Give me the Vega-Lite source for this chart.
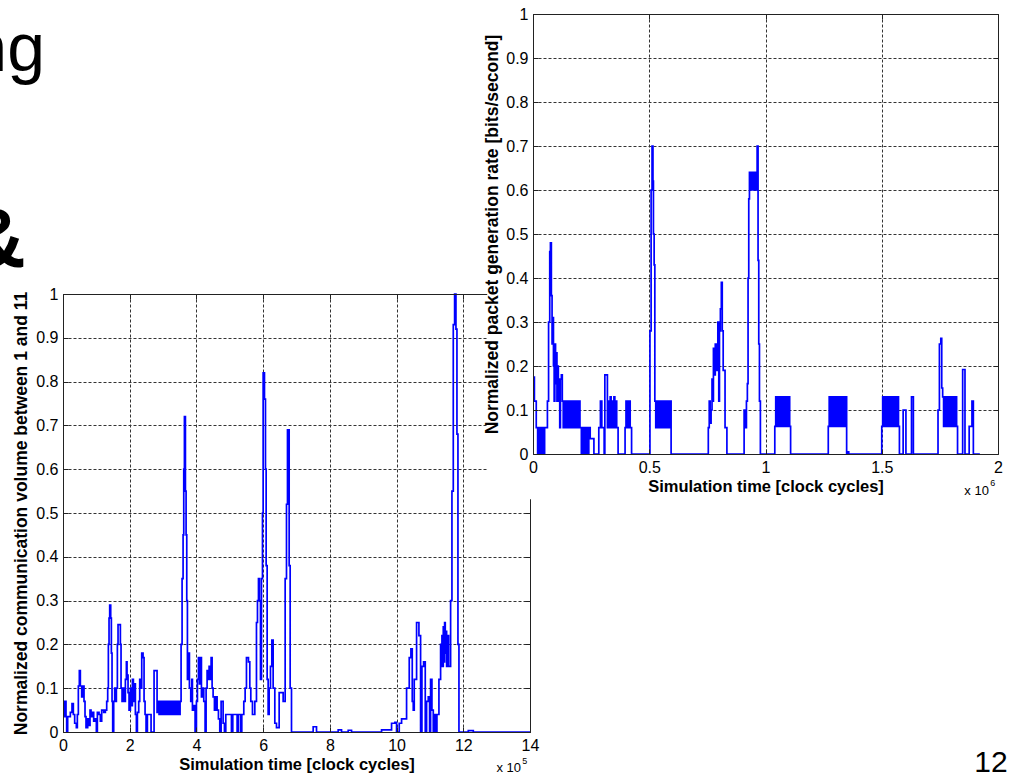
{
  "$schema": "https://vega.github.io/schema/vega-lite/v6.json",
  "background": "white",
  "padding": {"left": 0, "top": 6, "right": 5, "bottom": 0},
  "config": {
    "view": {"stroke": null},
    "font": "Liberation Sans",
    "axis": {
      "labelFont": "Liberation Sans", "labelFontSize": 16, "labelColor": "#000",
      "titleFont": "Liberation Sans", "titleFontSize": 16.5, "titleFontWeight": "bold", "titleColor": "#000",
      "domainColor": "#222", "tickColor": "#222", "gridColor": "#333", "gridDash": [3, 2], "gridOpacity": 1,
      "labelFlush": false, "labelOverlap": false
    },
    "axisLeft": {"titleFontSize": 17.5}
  },
  "datasets": {
    "comm": [
      {"t":0,"v":0.07},{"t":0.03,"v":0.035},{"t":0.06,"v":0.07},{"t":0.09,"v":0.035},{"t":0.11,"v":0},{"t":0.14,"v":0.035},{"t":0.22,"v":0.045},{"t":0.27,"v":0.065},{"t":0.31,"v":0.04},{"t":0.35,"v":0.02},{"t":0.4,"v":0.01},{"t":0.43,"v":0.04},{"t":0.46,"v":0.105},{"t":0.49,"v":0.14},{"t":0.52,"v":0.105},{"t":0.56,"v":0.08},{"t":0.59,"v":0.105},{"t":0.63,"v":0.07},{"t":0.66,"v":0.035},{"t":0.69,"v":0.01},{"t":0.74,"v":0.03},{"t":0.78,"v":0.015},{"t":0.81,"v":0.05},{"t":0.84,"v":0.035},{"t":0.88,"v":0.045},{"t":0.92,"v":0.025},{"t":0.96,"v":0.03},{"t":1,"v":0},{"t":1.03,"v":0.045},{"t":1.08,"v":0.04},{"t":1.12,"v":0.025},{"t":1.16,"v":0.05},{"t":1.22,"v":0.045},{"t":1.27,"v":0.05},{"t":1.31,"v":0.07},{"t":1.34,"v":0.1},{"t":1.36,"v":0.2},{"t":1.38,"v":0.26},{"t":1.4,"v":0.29},{"t":1.43,"v":0.26},{"t":1.45,"v":0.18},{"t":1.47,"v":0.07},{"t":1.49,"v":0},{"t":1.52,"v":0.07},{"t":1.55,"v":0.1},{"t":1.58,"v":0.07},{"t":1.6,"v":0.1},{"t":1.63,"v":0.2},{"t":1.65,"v":0.245},{"t":1.72,"v":0.2},{"t":1.74,"v":0.1},{"t":1.77,"v":0.07},{"t":1.8,"v":0.1},{"t":1.83,"v":0.07},{"t":1.87,"v":0.12},{"t":1.9,"v":0.16},{"t":1.92,"v":0.13},{"t":1.95,"v":0.09},{"t":1.98,"v":0.05},{"t":2.02,"v":0.1},{"t":2.05,"v":0.06},{"t":2.08,"v":0.12},{"t":2.11,"v":0.07},{"t":2.14,"v":0.11},{"t":2.17,"v":0.04},{"t":2.2,"v":0},{"t":2.23,"v":0.045},{"t":2.27,"v":0.07},{"t":2.3,"v":0.12},{"t":2.33,"v":0.1},{"t":2.36,"v":0.18},{"t":2.4,"v":0.17},{"t":2.43,"v":0.07},{"t":2.46,"v":0.04},{"t":2.49,"v":0},{"t":2.53,"v":0.04},{"t":2.64,"v":0},{"t":2.73,"v":0.14},{"t":2.82,"v":0.045},
      {"t":2.85,"v":0.07},{"t":2.88,"v":0.04},{"t":2.91,"v":0.07},{"t":2.94,"v":0.04},{"t":2.97,"v":0.07},{"t":3,"v":0.04},{"t":3.03,"v":0.07},{"t":3.06,"v":0.04},{"t":3.09,"v":0.07},{"t":3.12,"v":0.04},{"t":3.15,"v":0.07},{"t":3.18,"v":0.04},{"t":3.21,"v":0.07},{"t":3.24,"v":0.04},{"t":3.27,"v":0.07},{"t":3.3,"v":0.04},{"t":3.33,"v":0.07},{"t":3.36,"v":0.04},{"t":3.39,"v":0.07},{"t":3.42,"v":0.04},{"t":3.45,"v":0.07},{"t":3.48,"v":0.04},
      {"t":3.51,"v":0.07},{"t":3.54,"v":0.2},{"t":3.57,"v":0.35},{"t":3.6,"v":0.45},{"t":3.62,"v":0.6},{"t":3.64,"v":0.72},{"t":3.67,"v":0.55},{"t":3.69,"v":0.45},{"t":3.71,"v":0.3},{"t":3.73,"v":0.12},{"t":3.76,"v":0.18},{"t":3.79,"v":0.1},{"t":3.83,"v":0.07},{"t":3.86,"v":0.12},{"t":3.88,"v":0.05},{"t":3.93,"v":0.06},{"t":3.96,"v":0},{"t":4,"v":0.07},{"t":4.03,"v":0.12},{"t":4.06,"v":0.17},{"t":4.09,"v":0.11},{"t":4.12,"v":0.17},{"t":4.15,"v":0.08},{"t":4.18,"v":0.1},{"t":4.22,"v":0.07},{"t":4.26,"v":0},{"t":4.29,"v":0.1},{"t":4.32,"v":0.14},{"t":4.35,"v":0.12},{"t":4.38,"v":0.15},{"t":4.41,"v":0.12},{"t":4.44,"v":0.17},{"t":4.47,"v":0.1},{"t":4.5,"v":0.08},{"t":4.54,"v":0.05},{"t":4.58,"v":0.08},{"t":4.62,"v":0.05},{"t":4.66,"v":0.03},{"t":4.7,"v":0},{"t":4.74,"v":0.07},{"t":4.8,"v":0.02},{"t":4.84,"v":0},{"t":4.88,"v":0.04},{"t":5.05,"v":0},{"t":5.09,"v":0.04},{"t":5.22,"v":0},{"t":5.25,"v":0.04},{"t":5.32,"v":0},{"t":5.36,"v":0.04},{"t":5.42,"v":0.07},{"t":5.46,"v":0.1},{"t":5.5,"v":0.17},{"t":5.56,"v":0.16},{"t":5.6,"v":0.1},{"t":5.63,"v":0.07},{"t":5.68,"v":0.04},{"t":5.75,"v":0.07},{"t":5.8,"v":0.25},{"t":5.83,"v":0.3},{"t":5.86,"v":0.35},{"t":5.89,"v":0.3},{"t":5.92,"v":0.12},{"t":5.95,"v":0.35},{"t":5.98,"v":0.5},{"t":6,"v":0.82},{"t":6.04,"v":0.76},{"t":6.07,"v":0.6},{"t":6.09,"v":0.38},{"t":6.12,"v":0.12},{"t":6.15,"v":0.04},{"t":6.18,"v":0.1},{"t":6.22,"v":0.15},{"t":6.26,"v":0.21},{"t":6.3,"v":0.1},{"t":6.35,"v":0.02},{"t":6.4,"v":0.01},{"t":6.48,"v":0.09},{"t":6.6,"v":0.07},{"t":6.66,"v":0.35},{"t":6.7,"v":0.52},{"t":6.73,"v":0.69},{"t":6.78,"v":0.38},{"t":6.81,"v":0.1},{"t":6.85,"v":0},{"t":7.5,"v":0.012},{"t":7.6,"v":0},{"t":8.25,"v":0.005},{"t":8.35,"v":0},{"t":8.55,"v":0.004},{"t":8.65,"v":0},{"t":9.55,"v":0.005},{"t":9.85,"v":0.02},{"t":9.95,"v":0.022},{"t":10,"v":0},{"t":10.08,"v":0.02},{"t":10.15,"v":0.03},{"t":10.3,"v":0.1},{"t":10.38,"v":0.17},{"t":10.43,"v":0.19},{"t":10.47,"v":0.07},{"t":10.5,"v":0.05},{"t":10.53,"v":0.12},{"t":10.6,"v":0.25},{"t":10.67,"v":0.22},{"t":10.72,"v":0},{"t":10.76,"v":0.15},{"t":10.81,"v":0.16},{"t":10.86,"v":0},{"t":10.9,"v":0.07},{"t":10.95,"v":0.08},{"t":10.99,"v":0},{"t":11.02,"v":0.12},{"t":11.06,"v":0.05},{"t":11.1,"v":0},{"t":11.14,"v":0.04},{"t":11.18,"v":0},{"t":11.21,"v":0.04},{"t":11.27,"v":0.12},{"t":11.32,"v":0.2},{"t":11.34,"v":0.15},{"t":11.36,"v":0.22},{"t":11.38,"v":0.15},{"t":11.4,"v":0.24},{"t":11.42,"v":0.16},{"t":11.44,"v":0.25},{"t":11.46,"v":0.18},{"t":11.48,"v":0.23},{"t":11.5,"v":0.15},{"t":11.53,"v":0.22},{"t":11.56,"v":0.15},{"t":11.62,"v":0.3},{"t":11.66,"v":0.55},{"t":11.7,"v":0.93},{"t":11.74,"v":1},{"t":11.78,"v":0.92},{"t":11.81,"v":0.68},{"t":11.84,"v":0.2},{"t":11.87,"v":0},{"t":12.15,"v":0.003},{"t":12.3,"v":0},{"t":14,"v":0}
    ],
    "rate": [
      {"t":0,"v":0.175},{"t":0.006,"v":0.12},{"t":0.014,"v":0.06},{"t":0.02,"v":0},{"t":0.024,"v":0.06},{"t":0.029,"v":0},{"t":0.033,"v":0.06},{"t":0.038,"v":0},{"t":0.042,"v":0.06},{"t":0.046,"v":0},{"t":0.05,"v":0.06},{"t":0.062,"v":0.12},{"t":0.067,"v":0.3},{"t":0.072,"v":0.46},{"t":0.075,"v":0.48},{"t":0.079,"v":0.36},{"t":0.082,"v":0.25},{"t":0.085,"v":0.31},{"t":0.088,"v":0.2},{"t":0.091,"v":0.12},{"t":0.094,"v":0.25},{"t":0.097,"v":0.16},{"t":0.1,"v":0.23},{"t":0.103,"v":0.12},{"t":0.106,"v":0.2},{"t":0.109,"v":0.12},{"t":0.112,"v":0.17},{"t":0.115,"v":0.06},{"t":0.118,"v":0.17},{"t":0.122,"v":0.18},{"t":0.126,"v":0.12},
      {"t":0.13,"v":0.06},{"t":0.134,"v":0.12},{"t":0.138,"v":0.06},{"t":0.142,"v":0.12},{"t":0.146,"v":0.06},{"t":0.15,"v":0.12},{"t":0.154,"v":0.06},{"t":0.158,"v":0.12},{"t":0.162,"v":0.06},{"t":0.166,"v":0.12},{"t":0.17,"v":0.06},{"t":0.174,"v":0.12},{"t":0.178,"v":0.06},{"t":0.182,"v":0.12},{"t":0.186,"v":0.06},{"t":0.19,"v":0.12},{"t":0.194,"v":0.06},{"t":0.198,"v":0.12},{"t":0.202,"v":0.06},
      {"t":0.208,"v":0},{"t":0.212,"v":0.06},{"t":0.218,"v":0},{"t":0.222,"v":0.06},{"t":0.226,"v":0},{"t":0.229,"v":0.06},{"t":0.236,"v":0},{"t":0.24,"v":0.06},{"t":0.246,"v":0.035},{"t":0.262,"v":0},{"t":0.283,"v":0.06},{"t":0.29,"v":0.12},{"t":0.296,"v":0.06},{"t":0.306,"v":0},{"t":0.309,"v":0.18},{"t":0.32,"v":0.06},{"t":0.324,"v":0.12},{"t":0.328,"v":0.06},{"t":0.332,"v":0.13},{"t":0.336,"v":0.06},{"t":0.34,"v":0.12},{"t":0.344,"v":0.06},{"t":0.348,"v":0.13},{"t":0.352,"v":0.06},{"t":0.356,"v":0.12},{"t":0.36,"v":0.06},{"t":0.366,"v":0},{"t":0.396,"v":0.06},{"t":0.4,"v":0.12},{"t":0.406,"v":0.06},{"t":0.412,"v":0.12},{"t":0.418,"v":0.06},{"t":0.424,"v":0},
      {"t":0.503,"v":0.28},{"t":0.508,"v":0.6},{"t":0.512,"v":0.7},{"t":0.516,"v":0.62},{"t":0.518,"v":0.5},{"t":0.521,"v":0.43},{"t":0.524,"v":0.12},
      {"t":0.528,"v":0.06},{"t":0.532,"v":0.12},{"t":0.536,"v":0.06},{"t":0.54,"v":0.12},{"t":0.544,"v":0.06},{"t":0.548,"v":0.12},{"t":0.552,"v":0.06},{"t":0.556,"v":0.12},{"t":0.56,"v":0.06},{"t":0.564,"v":0.12},{"t":0.568,"v":0.06},{"t":0.572,"v":0.12},{"t":0.576,"v":0.06},{"t":0.58,"v":0.12},{"t":0.584,"v":0.06},{"t":0.588,"v":0.12},{"t":0.594,"v":0},
      {"t":0.754,"v":0.06},{"t":0.758,"v":0.12},{"t":0.762,"v":0.07},{"t":0.766,"v":0.1},{"t":0.77,"v":0.17},{"t":0.773,"v":0.12},{"t":0.776,"v":0.24},{"t":0.78,"v":0.18},{"t":0.784,"v":0.25},{"t":0.788,"v":0.19},{"t":0.792,"v":0.22},{"t":0.795,"v":0.3},{"t":0.799,"v":0.12},{"t":0.802,"v":0.28},{"t":0.806,"v":0.33},{"t":0.81,"v":0.39},{"t":0.814,"v":0.28},{"t":0.818,"v":0.19},{"t":0.826,"v":0.06},{"t":0.834,"v":0},
      {"t":0.908,"v":0.1},{"t":0.913,"v":0.06},{"t":0.918,"v":0.12},{"t":0.922,"v":0.16},{"t":0.925,"v":0.4},{"t":0.928,"v":0.58},{"t":0.931,"v":0.64},{"t":0.934,"v":0.6},{"t":0.937,"v":0.64},{"t":0.94,"v":0.6},{"t":0.943,"v":0.64},{"t":0.946,"v":0.6},{"t":0.949,"v":0.64},{"t":0.952,"v":0.6},{"t":0.955,"v":0.64},{"t":0.958,"v":0.6},{"t":0.961,"v":0.64},{"t":0.964,"v":0.7},{"t":0.968,"v":0.44},{"t":0.971,"v":0.25},{"t":0.974,"v":0.12},{"t":0.978,"v":0},
      {"t":1.04,"v":0.063},{"t":1.044,"v":0.13},{"t":1.048,"v":0.063},{"t":1.052,"v":0.13},{"t":1.056,"v":0.063},{"t":1.06,"v":0.13},{"t":1.064,"v":0.063},{"t":1.068,"v":0.13},{"t":1.072,"v":0.063},{"t":1.076,"v":0.13},{"t":1.08,"v":0.063},{"t":1.084,"v":0.13},{"t":1.088,"v":0.063},{"t":1.092,"v":0.13},{"t":1.096,"v":0.063},{"t":1.1,"v":0.13},{"t":1.104,"v":0.063},{"t":1.108,"v":0},
      {"t":1.27,"v":0.063},{"t":1.274,"v":0.13},{"t":1.278,"v":0.063},{"t":1.282,"v":0.13},{"t":1.286,"v":0.063},{"t":1.29,"v":0.13},{"t":1.294,"v":0.063},{"t":1.298,"v":0.13},{"t":1.302,"v":0.063},{"t":1.306,"v":0.13},{"t":1.31,"v":0.063},{"t":1.314,"v":0.13},{"t":1.318,"v":0.063},{"t":1.322,"v":0.13},{"t":1.326,"v":0.063},{"t":1.33,"v":0.13},{"t":1.334,"v":0.063},{"t":1.338,"v":0.13},{"t":1.342,"v":0.063},{"t":1.345,"v":0.13},{"t":1.349,"v":0},{"t":1.353,"v":0.005},{"t":1.358,"v":0},
      {"t":1.5,"v":0.063},{"t":1.504,"v":0.13},{"t":1.508,"v":0.063},{"t":1.512,"v":0.13},{"t":1.516,"v":0.063},{"t":1.52,"v":0.13},{"t":1.524,"v":0.063},{"t":1.528,"v":0.13},{"t":1.532,"v":0.063},{"t":1.536,"v":0.13},{"t":1.54,"v":0.063},{"t":1.544,"v":0.13},{"t":1.548,"v":0.063},{"t":1.552,"v":0.13},{"t":1.556,"v":0.063},{"t":1.56,"v":0.13},{"t":1.564,"v":0.063},{"t":1.568,"v":0.13},{"t":1.572,"v":0.063},{"t":1.576,"v":0},
      {"t":1.592,"v":0.1},{"t":1.604,"v":0},{"t":1.628,"v":0.13},{"t":1.636,"v":0},
      {"t":1.742,"v":0.1},{"t":1.748,"v":0.25},{"t":1.754,"v":0.263},{"t":1.758,"v":0.15},{"t":1.762,"v":0.13},{"t":1.766,"v":0.063},{"t":1.77,"v":0.13},{"t":1.774,"v":0.063},{"t":1.778,"v":0.13},{"t":1.782,"v":0.063},{"t":1.786,"v":0.13},{"t":1.79,"v":0.063},{"t":1.794,"v":0.13},{"t":1.798,"v":0.063},{"t":1.802,"v":0.13},{"t":1.806,"v":0.063},{"t":1.81,"v":0.13},{"t":1.814,"v":0.063},{"t":1.818,"v":0.13},{"t":1.822,"v":0.063},{"t":1.826,"v":0},
      {"t":1.848,"v":0.192},{"t":1.858,"v":0},{"t":1.876,"v":0.063},{"t":1.888,"v":0.12},{"t":1.894,"v":0},{"t":1.922,"v":0}
    ]
  },
  "bounds": "flush",
  "spacing": 3,
  "hconcat": [
    {
      "width": 60, "height": 440,
      "data": {"values": [{}]},
      "layer": [
        {
          "mark": {"type": "text", "text": "ng", "font": "Liberation Sans Narrow, Liberation Sans", "fontSize": 68, "align": "right", "baseline": "alphabetic", "clip": true, "color": "#000"},
          "encoding": {
            "x": {"datum": 45, "type": "quantitative", "scale": {"domain": [0, 60], "nice": false, "zero": false}, "axis": null},
            "y": {"datum": 57, "type": "quantitative", "scale": {"domain": [440, 0], "nice": false, "zero": false}, "axis": null}
          }
        },
        {
          "mark": {"type": "text", "text": "&", "font": "Liberation Sans", "fontWeight": "bold", "fontSize": 84, "align": "right", "baseline": "alphabetic", "clip": true, "color": "#000"},
          "encoding": {
            "x": {"datum": 26, "type": "quantitative", "scale": {"domain": [0, 60], "nice": false, "zero": false}, "axis": null},
            "y": {"datum": 253, "type": "quantitative", "scale": {"domain": [440, 0], "nice": false, "zero": false}, "axis": null}
          }
        }
      ]
    },
    {
      "width": 467, "height": 718,
      "layer": [
        {
          "data": {"name": "comm"},
          "mark": {"type": "line", "interpolate": "step-after", "color": "#0000FF", "strokeWidth": 1.7},
          "encoding": {
            "x": {"field": "t", "type": "quantitative", "scale": {"domain": [0, 14], "nice": false, "zero": false},
                  "axis": {"orient": "top", "grid": true, "labels": false, "ticks": false, "domain": false, "title": null, "values": [0,2,4,6,8,10,12,14], "zindex": 0}},
            "y": {"field": "v", "type": "quantitative", "scale": {"domain": [0, 1], "range": [718, 280], "nice": false, "zero": false},
                  "axis": {"orient": "left", "grid": true, "labels": false, "ticks": false, "domain": false, "title": null, "values": [0,0.1,0.2,0.3,0.4,0.5,0.6,0.7,0.8,0.9,1], "zindex": 0}}
          }
        },
        {
          "data": {"values": [{}]},
          "mark": {"type": "point", "opacity": 0},
          "encoding": {
            "x": {"datum": 0, "type": "quantitative", "scale": {"domain": [0, 14], "nice": false, "zero": false},
                  "axis": {"orient": "bottom", "grid": false, "values": [0,2,4,6,8,10,12,14], "format": "~g", "tickSize": -5, "labelPadding": 10, "title": "Simulation time [clock cycles]", "titlePadding": 3, "zindex": 1}},
            "y": {"datum": 0, "type": "quantitative", "scale": {"domain": [0, 1], "range": [718, 280], "nice": false, "zero": false},
                  "axis": {"orient": "left", "grid": false, "values": [0,0.1,0.2,0.3,0.4,0.5,0.6,0.7,0.8,0.9,1], "format": "~g", "tickSize": -5, "labelPadding": 10, "title": "Normalized communication volume between 1 and 11", "titlePadding": 5, "zindex": 1}}
          }
        },
        {
          "data": {"values": [{}]},
          "mark": {"type": "point", "opacity": 0},
          "encoding": {
            "x": {"datum": 0, "type": "quantitative", "scale": {"domain": [0, 14], "nice": false, "zero": false},
                  "axis": {"orient": "top", "offset": -280, "grid": false, "labels": false, "values": [0,2,4,6,8,10,12,14], "tickSize": -5, "title": null, "zindex": 1}},
            "y": {"datum": 0, "type": "quantitative", "scale": {"domain": [0, 1], "range": [718, 280], "nice": false, "zero": false},
                  "axis": {"orient": "right", "grid": false, "labels": false, "values": [0,0.1,0.2,0.3,0.4,0.5,0.6,0.7,0.8,0.9,1], "tickSize": -5, "title": null, "zindex": 1}}
          }
        },
        {
          "data": {"values": [{}]},
          "mark": {"type": "text", "text": "x 10", "font": "Liberation Sans", "fontSize": 13, "align": "right", "baseline": "alphabetic", "color": "#000"},
          "encoding": {
            "x": {"datum": 13.73, "type": "quantitative", "scale": {"domain": [0, 14], "nice": false, "zero": false}, "axis": null},
            "y": {"datum": -0.091, "type": "quantitative", "scale": {"domain": [0, 1], "range": [718, 280], "nice": false, "zero": false}, "axis": null}
          }
        },
        {
          "data": {"values": [{}]},
          "mark": {"type": "text", "text": "5", "font": "Liberation Sans", "fontSize": 9, "align": "left", "baseline": "alphabetic", "color": "#000"},
          "encoding": {
            "x": {"datum": 13.77, "type": "quantitative", "scale": {"domain": [0, 14], "nice": false, "zero": false}, "axis": null},
            "y": {"datum": -0.072, "type": "quantitative", "scale": {"domain": [0, 1], "range": [718, 280], "nice": false, "zero": false}, "axis": null}
          }
        }
      ],
      "resolve": {"axis": {"x": "independent", "y": "independent"}}
    },
    {
      "width": 465, "height": 440,
      "layer": [
        {
          "data": {"values": [{}]},
          "mark": {"type": "rect", "fill": "white", "stroke": null},
          "encoding": {
            "x": {"datum": -0.197, "type": "quantitative", "scale": {"domain": [0, 2], "nice": false, "zero": false}, "axis": null},
            "x2": {"datum": 0},
            "y": {"datum": -0.103, "type": "quantitative", "scale": {"domain": [0, 1], "nice": false, "zero": false}, "axis": null},
            "y2": {"datum": 0.42}
          }
        },
        {
          "data": {"name": "rate"},
          "mark": {"type": "line", "interpolate": "step-after", "color": "#0000FF", "strokeWidth": 1.7},
          "encoding": {
            "x": {"field": "t", "type": "quantitative", "scale": {"domain": [0, 2], "nice": false, "zero": false},
                  "axis": {"orient": "bottom", "grid": true, "labels": false, "ticks": false, "domain": false, "title": null, "values": [0,0.5,1,1.5,2], "zindex": 0}},
            "y": {"field": "v", "type": "quantitative", "scale": {"domain": [0, 1], "nice": false, "zero": false},
                  "axis": {"orient": "left", "grid": true, "labels": false, "ticks": false, "domain": false, "title": null, "values": [0,0.1,0.2,0.3,0.4,0.5,0.6,0.7,0.8,0.9,1], "zindex": 0}}
          }
        },
        {
          "data": {"values": [{}]},
          "mark": {"type": "point", "opacity": 0},
          "encoding": {
            "x": {"datum": 0, "type": "quantitative", "scale": {"domain": [0, 2], "nice": false, "zero": false},
                  "axis": {"orient": "bottom", "grid": false, "values": [0,0.5,1,1.5,2], "format": "~g", "tickSize": -5, "labelPadding": 10, "title": "Simulation time [clock cycles]", "titlePadding": 3, "zindex": 1}},
            "y": {"datum": 0, "type": "quantitative", "scale": {"domain": [0, 1], "nice": false, "zero": false},
                  "axis": {"orient": "left", "grid": false, "values": [0,0.1,0.2,0.3,0.4,0.5,0.6,0.7,0.8,0.9,1], "format": "~g", "tickSize": -5, "labelPadding": 10, "title": "Normalized packet generation rate [bits/second]", "titlePadding": 4, "zindex": 1}}
          }
        },
        {
          "data": {"values": [{}]},
          "mark": {"type": "point", "opacity": 0},
          "encoding": {
            "x": {"datum": 0, "type": "quantitative", "scale": {"domain": [0, 2], "nice": false, "zero": false},
                  "axis": {"orient": "top", "grid": false, "labels": false, "values": [0,0.5,1,1.5,2], "tickSize": -5, "title": null, "zindex": 1}},
            "y": {"datum": 0, "type": "quantitative", "scale": {"domain": [0, 1], "nice": false, "zero": false},
                  "axis": {"orient": "right", "grid": false, "labels": false, "values": [0,0.1,0.2,0.3,0.4,0.5,0.6,0.7,0.8,0.9,1], "tickSize": -5, "title": null, "zindex": 1}}
          }
        },
        {
          "data": {"values": [{}]},
          "mark": {"type": "text", "text": "x 10", "font": "Liberation Sans", "fontSize": 13, "align": "right", "baseline": "alphabetic", "color": "#000"},
          "encoding": {
            "x": {"datum": 1.961, "type": "quantitative", "scale": {"domain": [0, 2], "nice": false, "zero": false}, "axis": null},
            "y": {"datum": -0.093, "type": "quantitative", "scale": {"domain": [0, 1], "nice": false, "zero": false}, "axis": null}
          }
        },
        {
          "data": {"values": [{}]},
          "mark": {"type": "text", "text": "6", "font": "Liberation Sans", "fontSize": 9, "align": "left", "baseline": "alphabetic", "color": "#000"},
          "encoding": {
            "x": {"datum": 1.967, "type": "quantitative", "scale": {"domain": [0, 2], "nice": false, "zero": false}, "axis": null},
            "y": {"datum": -0.073, "type": "quantitative", "scale": {"domain": [0, 1], "nice": false, "zero": false}, "axis": null}
          }
        },
        {
          "data": {"values": [{}]},
          "mark": {"type": "text", "text": "12", "font": "Liberation Sans", "fontSize": 30, "align": "center", "baseline": "alphabetic", "color": "#000"},
          "encoding": {
            "x": {"datum": 1.97, "type": "quantitative", "scale": {"domain": [0, 2], "nice": false, "zero": false}, "axis": null},
            "y": {"datum": -0.723, "type": "quantitative", "scale": {"domain": [0, 1], "nice": false, "zero": false}, "axis": null}
          }
        }
      ],
      "resolve": {"axis": {"x": "independent", "y": "independent"}}
    }
  ]
}
